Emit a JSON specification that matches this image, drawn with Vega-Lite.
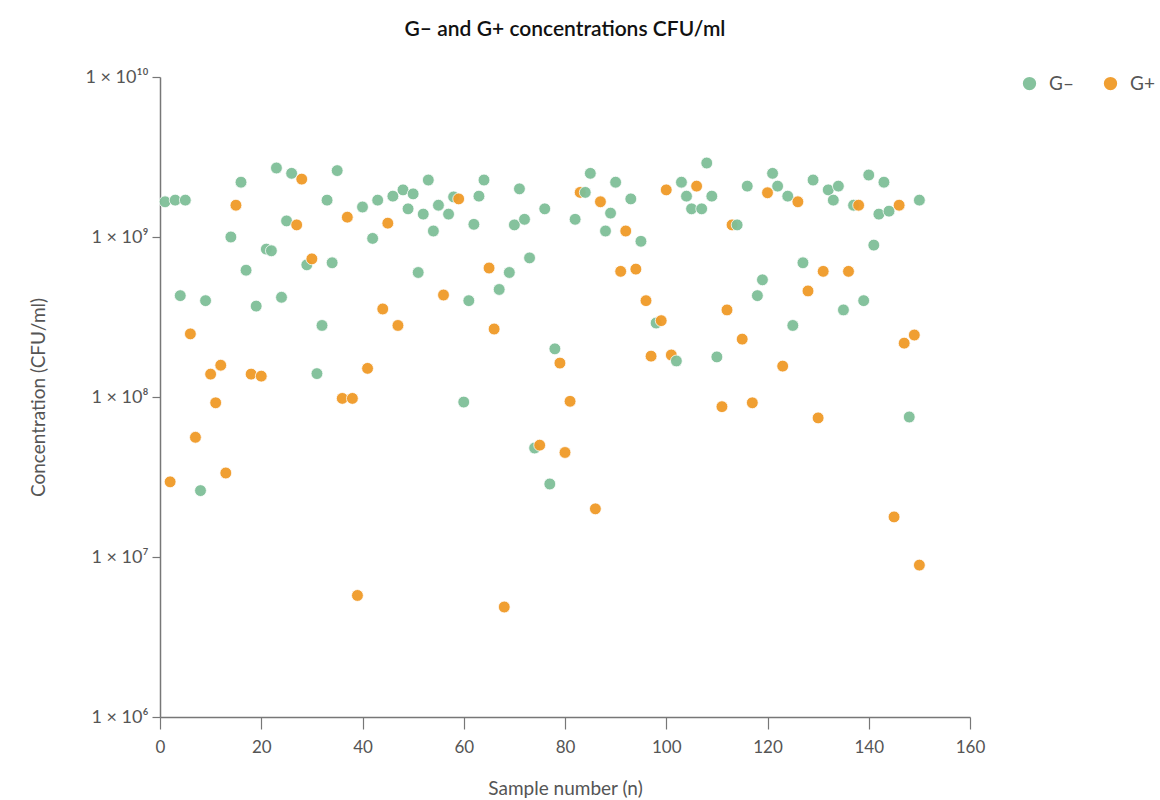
{
  "$schema": "https://vega.github.io/schema/vega-lite/v6.json",
  "width": 810,
  "height": 640,
  "autosize": {"type": "none"},
  "padding": {"left": 160, "top": 77, "right": 190, "bottom": 83},
  "background": "white",
  "config": {
    "font": "Lato",
    "view": {"stroke": null}
  },
  "title": {
    "text": "G– and G+ concentrations CFU/ml",
    "fontSize": 21,
    "fontWeight": 600,
    "color": "#111111",
    "anchor": "middle",
    "offset": 28
  },
  "data": {
    "values": [
      {"n": 1, "type": "G–", "c": 1.66e9},
      {"n": 2, "type": "G+", "c": 2.95e7},
      {"n": 3, "type": "G–", "c": 1.7e9},
      {"n": 4, "type": "G–", "c": 4.3e8},
      {"n": 5, "type": "G–", "c": 1.7e9},
      {"n": 6, "type": "G+", "c": 2.48e8},
      {"n": 7, "type": "G+", "c": 5.6e7},
      {"n": 8, "type": "G–", "c": 2.6e7},
      {"n": 9, "type": "G–", "c": 4.0e8},
      {"n": 10, "type": "G+", "c": 1.39e8},
      {"n": 11, "type": "G+", "c": 9.2e7},
      {"n": 12, "type": "G+", "c": 1.58e8},
      {"n": 13, "type": "G+", "c": 3.35e7},
      {"n": 14, "type": "G–", "c": 1.0e9},
      {"n": 15, "type": "G+", "c": 1.58e9},
      {"n": 16, "type": "G–", "c": 2.2e9},
      {"n": 17, "type": "G–", "c": 6.2e8},
      {"n": 18, "type": "G+", "c": 1.39e8},
      {"n": 19, "type": "G–", "c": 3.7e8},
      {"n": 20, "type": "G+", "c": 1.35e8},
      {"n": 21, "type": "G–", "c": 8.4e8},
      {"n": 22, "type": "G–", "c": 8.2e8},
      {"n": 23, "type": "G–", "c": 2.7e9},
      {"n": 24, "type": "G–", "c": 4.2e8},
      {"n": 25, "type": "G–", "c": 1.26e9},
      {"n": 26, "type": "G–", "c": 2.5e9},
      {"n": 27, "type": "G+", "c": 1.19e9},
      {"n": 28, "type": "G+", "c": 2.3e9},
      {"n": 29, "type": "G–", "c": 6.7e8},
      {"n": 30, "type": "G+", "c": 7.3e8},
      {"n": 31, "type": "G–", "c": 1.4e8},
      {"n": 32, "type": "G–", "c": 2.8e8},
      {"n": 33, "type": "G–", "c": 1.7e9},
      {"n": 34, "type": "G–", "c": 6.9e8},
      {"n": 35, "type": "G–", "c": 2.6e9},
      {"n": 36, "type": "G+", "c": 9.8e7},
      {"n": 37, "type": "G+", "c": 1.33e9},
      {"n": 38, "type": "G+", "c": 9.8e7},
      {"n": 39, "type": "G+", "c": 5.75e6},
      {"n": 40, "type": "G–", "c": 1.54e9},
      {"n": 41, "type": "G+", "c": 1.51e8},
      {"n": 42, "type": "G–", "c": 9.8e8},
      {"n": 43, "type": "G–", "c": 1.7e9},
      {"n": 44, "type": "G+", "c": 3.55e8},
      {"n": 45, "type": "G+", "c": 1.22e9},
      {"n": 46, "type": "G–", "c": 1.8e9},
      {"n": 47, "type": "G+", "c": 2.8e8},
      {"n": 48, "type": "G–", "c": 1.97e9},
      {"n": 49, "type": "G–", "c": 1.5e9},
      {"n": 50, "type": "G–", "c": 1.86e9},
      {"n": 51, "type": "G–", "c": 6.0e8},
      {"n": 52, "type": "G–", "c": 1.39e9},
      {"n": 53, "type": "G–", "c": 2.27e9},
      {"n": 54, "type": "G–", "c": 1.09e9},
      {"n": 55, "type": "G–", "c": 1.58e9},
      {"n": 56, "type": "G+", "c": 4.34e8},
      {"n": 57, "type": "G–", "c": 1.39e9},
      {"n": 58, "type": "G–", "c": 1.78e9},
      {"n": 59, "type": "G+", "c": 1.73e9},
      {"n": 60, "type": "G–", "c": 9.3e7},
      {"n": 61, "type": "G–", "c": 4.0e8},
      {"n": 62, "type": "G–", "c": 1.2e9},
      {"n": 63, "type": "G–", "c": 1.8e9},
      {"n": 64, "type": "G–", "c": 2.27e9},
      {"n": 65, "type": "G+", "c": 6.4e8},
      {"n": 66, "type": "G+", "c": 2.66e8},
      {"n": 67, "type": "G–", "c": 4.7e8},
      {"n": 68, "type": "G+", "c": 4.87e6},
      {"n": 69, "type": "G–", "c": 6.0e8},
      {"n": 70, "type": "G–", "c": 1.19e9},
      {"n": 71, "type": "G–", "c": 2.0e9},
      {"n": 72, "type": "G–", "c": 1.29e9},
      {"n": 73, "type": "G–", "c": 7.4e8},
      {"n": 74, "type": "G–", "c": 4.8e7},
      {"n": 75, "type": "G+", "c": 5.0e7},
      {"n": 76, "type": "G–", "c": 1.5e9},
      {"n": 77, "type": "G–", "c": 2.86e7},
      {"n": 78, "type": "G–", "c": 2.0e8},
      {"n": 79, "type": "G+", "c": 1.63e8},
      {"n": 80, "type": "G+", "c": 4.5e7},
      {"n": 81, "type": "G+", "c": 9.4e7},
      {"n": 82, "type": "G–", "c": 1.29e9},
      {"n": 83, "type": "G+", "c": 1.9e9},
      {"n": 84, "type": "G–", "c": 1.9e9},
      {"n": 85, "type": "G–", "c": 2.5e9},
      {"n": 86, "type": "G+", "c": 2.0e7},
      {"n": 87, "type": "G+", "c": 1.66e9},
      {"n": 88, "type": "G–", "c": 1.09e9},
      {"n": 89, "type": "G–", "c": 1.41e9},
      {"n": 90, "type": "G–", "c": 2.2e9},
      {"n": 91, "type": "G+", "c": 6.1e8},
      {"n": 92, "type": "G+", "c": 1.09e9},
      {"n": 93, "type": "G–", "c": 1.73e9},
      {"n": 94, "type": "G+", "c": 6.3e8},
      {"n": 95, "type": "G–", "c": 9.4e8},
      {"n": 96, "type": "G+", "c": 4.0e8},
      {"n": 97, "type": "G+", "c": 1.8e8},
      {"n": 98, "type": "G–", "c": 2.9e8},
      {"n": 99, "type": "G+", "c": 3.0e8},
      {"n": 100, "type": "G+", "c": 1.97e9},
      {"n": 101, "type": "G+", "c": 1.83e8},
      {"n": 102, "type": "G–", "c": 1.68e8},
      {"n": 103, "type": "G–", "c": 2.2e9},
      {"n": 104, "type": "G–", "c": 1.8e9},
      {"n": 105, "type": "G–", "c": 1.5e9},
      {"n": 106, "type": "G+", "c": 2.08e9},
      {"n": 107, "type": "G–", "c": 1.5e9},
      {"n": 108, "type": "G–", "c": 2.9e9},
      {"n": 109, "type": "G–", "c": 1.8e9},
      {"n": 110, "type": "G–", "c": 1.78e8},
      {"n": 111, "type": "G+", "c": 8.7e7},
      {"n": 112, "type": "G+", "c": 3.5e8},
      {"n": 113, "type": "G+", "c": 1.19e9},
      {"n": 114, "type": "G–", "c": 1.19e9},
      {"n": 115, "type": "G+", "c": 2.3e8},
      {"n": 116, "type": "G–", "c": 2.08e9},
      {"n": 117, "type": "G+", "c": 9.2e7},
      {"n": 118, "type": "G–", "c": 4.3e8},
      {"n": 119, "type": "G–", "c": 5.4e8},
      {"n": 120, "type": "G+", "c": 1.89e9},
      {"n": 121, "type": "G–", "c": 2.5e9},
      {"n": 122, "type": "G–", "c": 2.08e9},
      {"n": 123, "type": "G+", "c": 1.56e8},
      {"n": 124, "type": "G–", "c": 1.8e9},
      {"n": 125, "type": "G–", "c": 2.8e8},
      {"n": 126, "type": "G+", "c": 1.66e9},
      {"n": 127, "type": "G–", "c": 6.9e8},
      {"n": 128, "type": "G+", "c": 4.6e8},
      {"n": 129, "type": "G–", "c": 2.27e9},
      {"n": 130, "type": "G+", "c": 7.4e7},
      {"n": 131, "type": "G+", "c": 6.1e8},
      {"n": 132, "type": "G–", "c": 1.97e9},
      {"n": 133, "type": "G–", "c": 1.7e9},
      {"n": 134, "type": "G–", "c": 2.08e9},
      {"n": 135, "type": "G–", "c": 3.5e8},
      {"n": 136, "type": "G+", "c": 6.1e8},
      {"n": 137, "type": "G–", "c": 1.58e9},
      {"n": 138, "type": "G+", "c": 1.58e9},
      {"n": 139, "type": "G–", "c": 4.0e8},
      {"n": 140, "type": "G–", "c": 2.44e9},
      {"n": 141, "type": "G–", "c": 8.9e8},
      {"n": 142, "type": "G–", "c": 1.39e9},
      {"n": 143, "type": "G–", "c": 2.2e9},
      {"n": 144, "type": "G–", "c": 1.45e9},
      {"n": 145, "type": "G+", "c": 1.78e7},
      {"n": 146, "type": "G+", "c": 1.58e9},
      {"n": 147, "type": "G+", "c": 2.17e8},
      {"n": 148, "type": "G–", "c": 7.5e7},
      {"n": 149, "type": "G+", "c": 2.44e8},
      {"n": 150, "type": "G–", "c": 1.7e9},
      {"n": 150, "type": "G+", "c": 8.9e6}
    ]
  },
  "mark": {"type": "circle", "size": 140, "opacity": 0.95, "stroke": "white", "strokeWidth": 0.8},
  "encoding": {
    "x": {
      "field": "n",
      "type": "quantitative",
      "scale": {"domain": [0, 160], "nice": false},
      "axis": {
        "title": "Sample number (n)",
        "values": [0, 20, 40, 60, 80, 100, 120, 140, 160],
        "labelFlush": false,
        "grid": false,
        "domainColor": "#777777",
        "domainWidth": 1.5,
        "tickColor": "#777777",
        "tickSize": 12,
        "tickWidth": 1.2,
        "labelFontSize": 17,
        "labelColor": "#555555",
        "labelPadding": 10,
        "titleFontSize": 19,
        "titleFontWeight": "normal",
        "titleColor": "#555555",
        "titlePadding": 24
      }
    },
    "y": {
      "field": "c",
      "type": "quantitative",
      "scale": {"type": "log", "domain": [1e6, 1e10], "nice": false},
      "axis": {
        "title": "Concentration (CFU/ml)",
        "values": [1e6, 1e7, 1e8, 1e9, 1e10],
        "labelFlush": false,
        "labelExpr": "datum.value >= 9e9 ? '1 × 10¹⁰' : datum.value >= 9e8 ? '1 × 10⁹' : datum.value >= 9e7 ? '1 × 10⁸' : datum.value >= 9e6 ? '1 × 10⁷' : '1 × 10⁶'",
        "grid": false,
        "domainColor": "#777777",
        "domainWidth": 1.5,
        "tickColor": "#777777",
        "tickSize": 8,
        "tickWidth": 1.2,
        "labelFontSize": 18,
        "labelColor": "#555555",
        "labelPadding": 4,
        "titleFontSize": 19,
        "titleFontWeight": "normal",
        "titleColor": "#555555",
        "titlePadding": 36
      }
    },
    "color": {
      "field": "type",
      "type": "nominal",
      "scale": {"domain": ["G–", "G+"], "range": ["#7fbf98", "#f09a28"]},
      "legend": {
        "title": null,
        "orient": "none",
        "legendX": 860,
        "legendY": -3,
        "direction": "horizontal",
        "symbolType": "circle",
        "symbolSize": 220,
        "symbolOpacity": 0.95,
        "labelFontSize": 19,
        "labelColor": "#555555",
        "columnPadding": 26,
        "labelOffset": 10
      }
    }
  }
}
